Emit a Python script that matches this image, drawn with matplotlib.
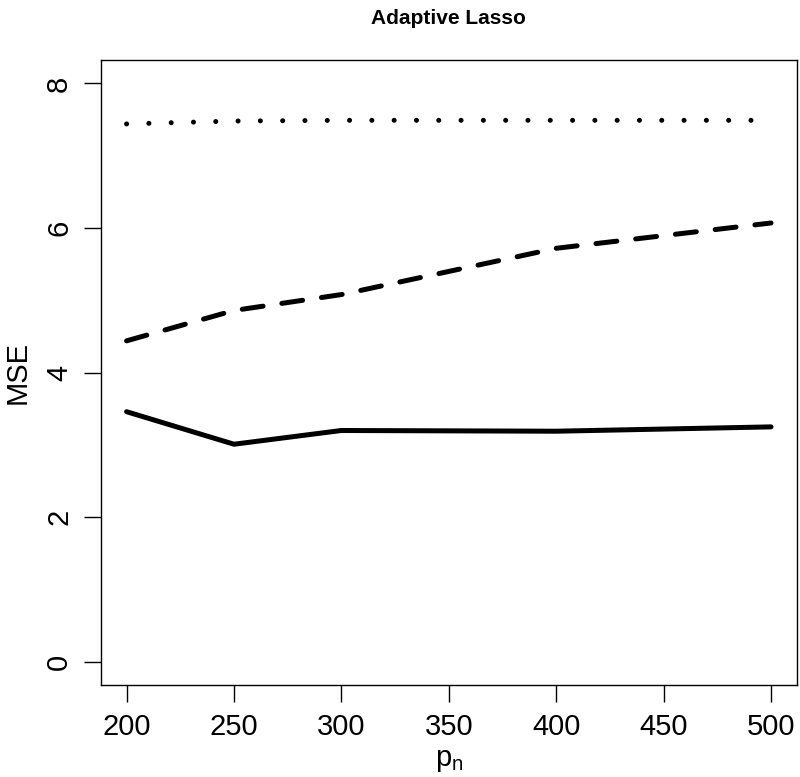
import matplotlib
matplotlib.use("Agg")
import matplotlib.pyplot as plt

# MSE vs p_n for adaptive lasso, three settings
p_n = [200, 250, 300, 400, 500]
mse_solid = [3.46, 3.01, 3.20, 3.19, 3.25]
mse_dashed = [4.44, 4.86, 5.08, 5.72, 6.07]
mse_dotted = [7.44, 7.48, 7.49, 7.49, 7.49]

x_ticks = [200, 250, 300, 350, 400, 450, 500]
y_ticks = [0, 2, 4, 6, 8]

plt.rcParams['font.family'] = ['Liberation Sans', 'DejaVu Sans']

fig = plt.figure(figsize=(8, 7.77), dpi=100)
ax = fig.add_axes([0.126, 0.1184, 0.87, 0.804])

ax.plot(p_n, mse_solid, color='black', linewidth=3.6, solid_capstyle='round')
ax.plot(p_n, mse_dashed, color='black', linewidth=3.6, linestyle=(0, (4.2, 3.8)),
        dash_capstyle='round')
ax.plot(p_n, mse_dotted, color='black', linewidth=3.6, linestyle=(0, (0.01, 4.45)),
        dash_capstyle='round')

ax.set_xlim(188, 512)
ax.set_ylim(-0.32, 8.32)
ax.set_xticks(x_ticks)
ax.set_yticks(y_ticks)
ax.tick_params(axis='both', labelsize=21, length=12, width=1, direction='out', pad=8)
for lab in ax.get_yticklabels():
    lab.set_rotation(90)
    lab.set_va('center')

for s in ax.spines.values():
    s.set_linewidth(1)

ax.set_xlabel(r'p$_\mathregular{n}$', fontsize=21, labelpad=4)
ax.set_ylabel('MSE', fontsize=21, labelpad=10)
ax.set_title('Adaptive Lasso', fontsize=15, fontweight='bold', pad=26)

fig.savefig('out.png', dpi=100)
